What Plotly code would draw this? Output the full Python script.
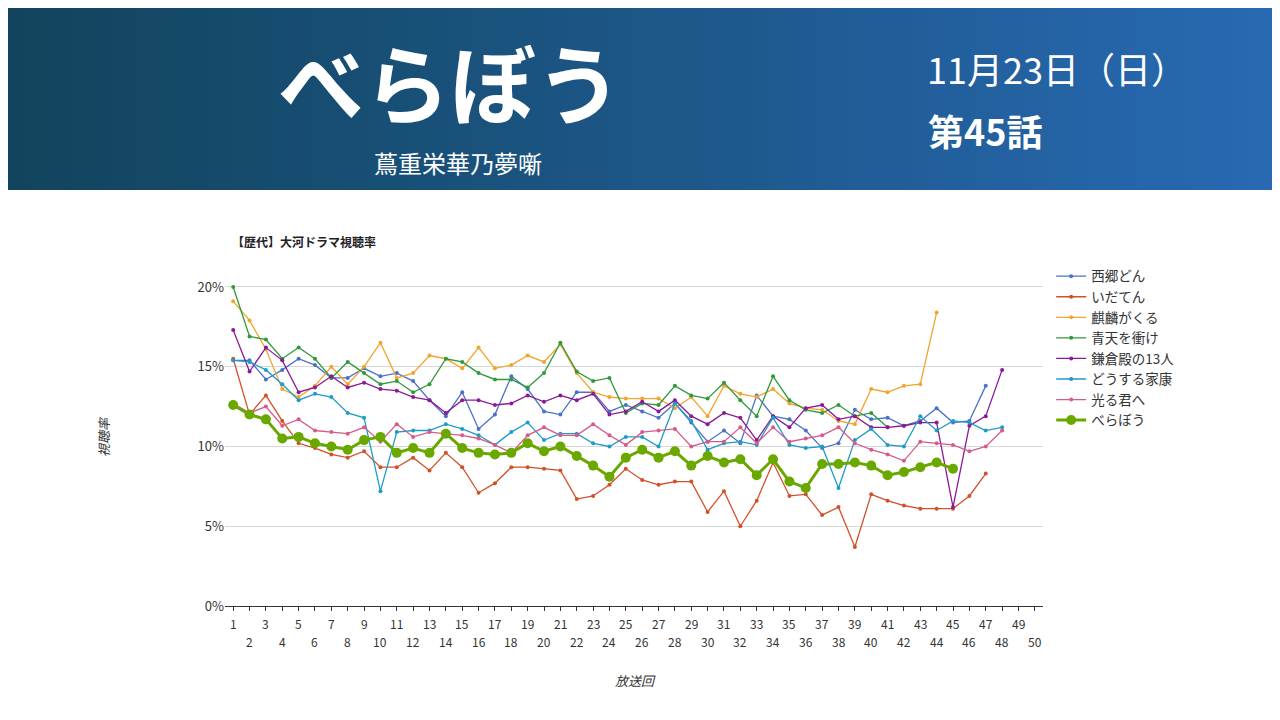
import plotly.graph_objects as go

names = ["西郷どん","いだてん","麒麟がくる","青天を衝け","鎌倉殿の13人","どうする家康","光る君へ","べらぼう"]
colors = ["#4a72c8","#d2502a","#f2a42c","#2f9a3c","#8a1a98","#1f9bc8","#d65a8a","#6aa800"]
saigo = [15.4,15.4,14.2,14.8,15.5,15.1,14.3,14.3,14.9,14.4,14.6,14.1,12.9,11.9,13.4,11.1,12.0,14.4,13.6,12.2,12.0,13.4,13.4,12.2,12.6,12.2,11.8,12.7,11.5,10.3,11.0,10.2,13.2,11.9,11.7,11.0,9.9,10.2,12.3,11.7,11.8,11.3,11.6,12.4,11.5,11.6,13.8]
idaten = [15.5,12.0,13.2,11.6,10.2,9.9,9.5,9.3,9.7,8.7,8.7,9.3,8.5,9.6,8.7,7.1,7.7,8.7,8.7,8.6,8.5,6.7,6.9,7.6,8.6,7.9,7.6,7.8,7.8,5.9,7.2,5.0,6.6,9.0,6.9,7.0,5.7,6.2,3.7,7.0,6.6,6.3,6.1,6.1,6.1,6.9,8.3]
kirin = [19.1,17.9,16.1,13.6,13.1,13.8,15.0,13.9,15.0,16.5,14.3,14.6,15.7,15.5,14.9,16.2,14.9,15.1,15.7,15.3,16.4,14.6,13.4,13.1,13.0,13.0,13.0,12.4,13.1,11.9,13.8,13.3,13.1,13.6,12.7,12.4,12.3,11.6,11.4,13.6,13.4,13.8,13.9,18.4]
seiten = [20.0,16.9,16.7,15.5,16.2,15.5,14.3,15.3,14.6,13.9,14.1,13.4,13.9,15.5,15.3,14.6,14.2,14.2,13.7,14.6,16.5,14.7,14.1,14.3,12.1,12.7,12.6,13.8,13.2,13.0,14.0,12.9,11.9,14.4,12.9,12.3,12.1,12.6,11.9,12.1,11.2]
kamakura = [17.3,14.7,16.2,15.4,13.4,13.7,14.4,13.7,14.0,13.6,13.5,13.1,12.9,12.1,12.9,12.9,12.6,12.7,13.2,12.8,13.2,12.9,13.3,12.0,12.2,12.8,12.2,12.9,11.9,11.4,12.1,11.8,10.4,11.9,11.2,12.4,12.6,11.7,11.9,11.2,11.2,11.3,11.5,11.5,6.2,11.3,11.9,14.8]
ieyasu = [15.4,15.3,14.8,13.9,12.9,13.3,13.1,12.1,11.8,7.2,10.9,11.0,11.0,11.4,11.1,10.7,10.1,10.9,11.5,10.4,10.8,10.8,10.2,10.0,10.6,10.6,10.0,12.7,11.6,9.8,10.2,10.3,10.1,11.8,10.1,9.9,10.0,7.4,10.4,11.1,10.1,10.0,11.9,11.0,11.6,11.5,11.0,11.2]
hikaru = [12.7,12.1,12.5,11.3,11.7,11.0,10.9,10.8,11.2,10.3,11.4,10.6,10.9,10.8,10.7,10.5,10.1,9.6,10.7,11.2,10.7,10.7,11.4,10.7,10.1,10.9,11.0,11.1,10.0,10.3,10.3,11.2,10.2,11.2,10.3,10.5,10.7,11.2,10.2,9.8,9.5,9.1,10.3,10.2,10.1,9.7,10.0,11.0]
berabou = [12.6,12.0,11.7,10.5,10.6,10.2,10.0,9.8,10.4,10.6,9.6,9.9,9.6,10.8,9.9,9.6,9.5,9.6,10.2,9.7,10.0,9.4,8.8,8.1,9.3,9.8,9.3,9.7,8.8,9.4,9.0,9.2,8.2,9.2,7.8,7.4,8.9,8.9,9.0,8.8,8.2,8.4,8.7,9.0,8.6]
series = [saigo, idaten, kirin, seiten, kamakura, ieyasu, hikaru, berabou]
episodes = list(range(1, 51))
y_ticks = [0, 5, 10, 15, 20]

fig = go.Figure()
for n, c, s in zip(names, colors, series):
    big = n == "べらぼう"
    fig.add_trace(go.Scatter(x=episodes[:len(s)], y=s, name=n, mode="lines+markers",
        line=dict(color=c, width=3 if big else 1.3),
        marker=dict(color=c, size=10 if big else 4)))

shapes = []
N = 64
def px(x): return (x - 225) / 818
def py(y): return (606 - y) / 335
for i in range(N):
    t = i / (N - 1)
    r = int(18 + (40 - 18) * t); g = int(68 + (105 - 68) * t); b = int(92 + (178 - 92) * t)
    shapes.append(dict(type="rect", xref="paper", yref="paper", x0=px(1280 * i / N - 10), x1=px(1280 * (i + 1) / N) + 0.002,
                       y0=py(190), y1=py(-10), fillcolor=f"rgb({r},{g},{b})", line_width=0, layer="below"))

ann = [
    dict(text="<b>べらぼう</b>", x=px(450), y=py(80), font=dict(size=86, color="white", family="Noto Sans CJK JP"), xanchor="center", yanchor="middle"),
    dict(text="蔦重栄華乃夢噺", x=px(458), y=py(162), font=dict(size=24, color="white", family="Noto Sans CJK JP"), xanchor="center", yanchor="middle"),
    dict(text="11月23日（日）", x=px(925), y=py(68), font=dict(size=36, color="white", family="Noto Sans CJK JP"), xanchor="left", yanchor="middle"),
    dict(text="<b>第45話</b>", x=px(926), y=py(130), font=dict(size=36, color="white", family="Noto Sans CJK JP"), xanchor="left", yanchor="middle"),
    dict(text="<b>【歴代】大河ドラマ視聴率</b>", x=px(230), y=py(241), font=dict(size=12, color="#222"), xanchor="left", yanchor="middle"),
    dict(text="<i>視聴率</i>", x=px(103), y=py(437), textangle=-90, font=dict(size=13, color="#333"), xanchor="center", yanchor="middle"),
    dict(text="<i>放送回</i>", x=px(635), y=py(680), font=dict(size=13, color="#333"), xanchor="center", yanchor="middle"),
]
for e in episodes:
    ann.append(dict(text=str(e), x=e, xref="x", y=py(623 if e % 2 else 641), yref="paper",
                    font=dict(size=12, color="#333"), xanchor="center", yanchor="middle"))
for a in ann:
    a.setdefault("xref", "paper"); a.setdefault("yref", "paper"); a["showarrow"] = False

fig.update_layout(width=1272, height=712, margin=dict(l=217, r=237, t=263, b=114),
    plot_bgcolor="white", paper_bgcolor="white", shapes=shapes, annotations=ann,
    font=dict(family="Noto Sans CJK JP", color="#333"),
    legend=dict(x=1.01, y=1.03, xanchor="left", yanchor="top", font=dict(size=13.5), tracegroupgap=0,
                itemwidth=30, bgcolor="rgba(0,0,0,0)"),
    xaxis=dict(range=[0.5, 50.5], showticklabels=False, showgrid=False, zeroline=False,
               showline=True, linecolor="#333", ticks="outside", tickvals=episodes, ticklen=4, tickcolor="#333"),
    yaxis=dict(range=[0, 21], tickvals=y_ticks, ticktext=[f"{v}%" for v in y_ticks], gridcolor="#d8d8d8",
               zeroline=False, showline=False, tickfont=dict(size=13), ticks=""))
fig.write_html("out.html")
